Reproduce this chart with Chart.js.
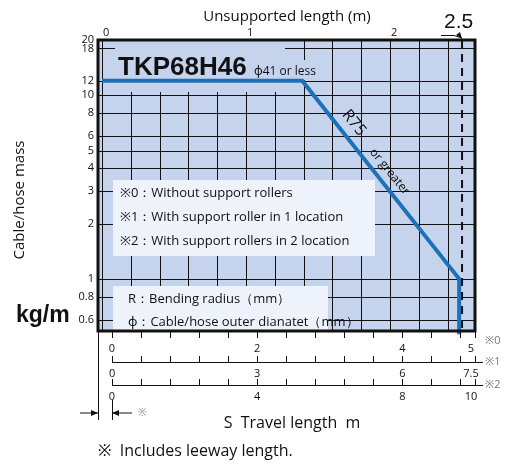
<!DOCTYPE html>
<html><head><meta charset="utf-8">
<script src="https://cdn.jsdelivr.net/npm/chart.js@4"></script>
<style>html,body{margin:0;background:#fff}#wrap{width:520px;height:471px}</style>
</head><body><div id="wrap"><canvas id="c"></canvas></div>
<script>
// unsupported length (m) vs cable/hose mass (kg/m)
const unsupportedLen = [0, 1.39, 2.48, 2.48];
const cableMass = [12, 12, 1, 0.5];
const massTicks = [0.6, 0.8, 1, 2, 3, 4, 5, 6, 8, 10, 12, 18, 20];
const topTicks = [0, 0.2, 0.4, 0.6, 0.8, 1, 1.2, 1.4, 1.6, 1.8, 2, 2.2, 2.4];
const topLabels = [0, 1, 2];
const travel0Labels = [0, 2, 4, 5];
const travel1Labels = [0, 3, 6, 7.5];
const travel2Labels = [0, 4, 8, 10];

const FONT = "'Open Sans', 'Noto Sans', sans-serif";

const drawPlugin = {
  id: "decor",
  beforeDatasetsDraw(chart) {
    const c = chart.ctx, a = chart.chartArea, s = chart.scales;
    c.save();
    c.fillStyle = "#c5d3ec";
    c.fillRect(a.left, a.top, a.right - a.left, a.bottom - a.top);
    c.strokeStyle = "#111"; c.lineWidth = 1;
    topTicks.forEach(v => {
      const x = Math.round(s.x.getPixelForValue(v)) + 0.5;
      c.beginPath(); c.moveTo(x, a.top); c.lineTo(x, a.bottom); c.stroke();
    });
    massTicks.forEach(v => {
      const y = Math.round(s.y.getPixelForValue(v)) + 0.5;
      c.beginPath(); c.moveTo(a.left, y); c.lineTo(a.right, y); c.stroke();
    });
    // legend boxes
    c.fillStyle = "#eef2fa";
    c.fillRect(113, 180, 262, 76);
    c.fillRect(113, 286, 215, 44);
    c.fillStyle = "#c5d3ec";
    c.fillRect(115, 40, 170, 52);
    c.fillRect(250, 60, 60, 20);
    c.restore();
  },
  afterDraw(chart) {
    const c = chart.ctx, a = chart.chartArea, s = chart.scales;
    c.save();
    // dashed limit line
    const xd = s.x.getPixelForValue(2.5);
    c.strokeStyle = "#111"; c.lineWidth = 2; c.setLineDash([8, 6]);
    c.beginPath(); c.moveTo(xd, a.top); c.lineTo(xd, a.bottom); c.stroke();
    c.setLineDash([]);
    // frame
    c.lineWidth = 3;
    c.strokeRect(a.left, a.top, a.right - a.left, a.bottom - a.top);
    c.fillStyle = "#111";
    // y labels
    c.font = "11px " + FONT; c.textAlign = "right"; c.textBaseline = "middle";
    massTicks.forEach(v => c.fillText(String(v), a.left - 4, s.y.getPixelForValue(v)));
    // top labels
    c.textAlign = "center"; c.textBaseline = "bottom";
    topLabels.forEach(v => c.fillText(String(v), s.x.getPixelForValue(v) + 4, a.top - 2));
    // bottom travel axes
    c.lineWidth = 1;
    const axes = [
      {sc: s.t0, max: 5, step: 0.4, y: a.bottom + 1, dir: 1, lab: travel0Labels, name: "※0"},
      {sc: s.t1, max: 7.5, step: 0.6, y: 362, dir: -1, lab: travel1Labels, name: "※1"},
      {sc: s.t2, max: 10, step: 0.8, y: 385, dir: -1, lab: travel2Labels, name: "※2"}
    ];
    axes.forEach(ax => {
      const x0 = ax.sc.getPixelForValue(0), x1 = ax.sc.getPixelForValue(ax.max);
      if (ax.dir < 0) { c.beginPath(); c.moveTo(x0, ax.y + 0.5); c.lineTo(x1 + 8, ax.y + 0.5); c.stroke(); }
      for (let v = 0; v <= ax.max + 1e-6; v += ax.step) {
        const x = Math.round(ax.sc.getPixelForValue(v)) + 0.5;
        c.beginPath(); c.moveTo(x, ax.y); c.lineTo(x, ax.y + 6 * ax.dir); c.stroke();
      }
      const x = Math.round(x1) + 0.5;
      c.beginPath(); c.moveTo(x, ax.y); c.lineTo(x, ax.y + 6 * ax.dir); c.stroke();
      c.font = "11px " + FONT; c.textAlign = "center"; c.textBaseline = "middle";
      ax.lab.forEach(v => c.fillText(String(v), ax.sc.getPixelForValue(v) - (v === ax.max ? 4 : 0), ax.y + (ax.dir > 0 ? 17 : 12)));
      c.fillStyle = "#777"; c.textAlign = "left";
      c.fillText(ax.name, a.right + 10, ax.y + (ax.dir > 0 ? 9 : 0));
      c.fillStyle = "#111";
    });
    // left extension and leeway arrows
    c.beginPath(); c.moveTo(a.left + 0.5, a.bottom); c.lineTo(a.left + 0.5, 420); c.stroke();
    const xs = s.t0.getPixelForValue(0);
    c.beginPath(); c.moveTo(xs + 0.5, 400); c.lineTo(xs + 0.5, 420); c.stroke();
    c.beginPath(); c.moveTo(80, 413); c.lineTo(a.left, 413); c.moveTo(xs, 413); c.lineTo(xs + 20, 413); c.stroke();
    c.beginPath(); c.moveTo(a.left, 413); c.lineTo(a.left - 7, 410); c.lineTo(a.left - 7, 416); c.fill();
    c.beginPath(); c.moveTo(xs, 413); c.lineTo(xs + 7, 410); c.lineTo(xs + 7, 416); c.fill();
    c.fillStyle = "#888"; c.font = "10px " + FONT; c.textAlign = "left";
    c.fillText("※", 138, 413);
    c.fillStyle = "#111";
    // titles
    c.font = "15px " + FONT; c.textAlign = "center"; c.textBaseline = "middle";
    c.fillText("Unsupported length (m)", 287, 17);
    c.font = "16px " + FONT;
    c.fillText("S  Travel length  m", 292, 423);
    c.textAlign = "left";
    c.fillText("※  Includes leeway length.", 98, 451);
    c.font = "21px 'Liberation Sans', sans-serif";
    c.fillText("2.5", 444, 22);
    c.lineWidth = 1;
    c.beginPath(); c.moveTo(441, 35.5); c.lineTo(454, 35.5); c.lineTo(xd, a.top - 2); c.stroke();
    c.beginPath(); c.moveTo(xd, a.top - 1); c.lineTo(xd - 6, a.top - 5); c.lineTo(xd - 2, a.top - 8); c.fill();
    c.font = "bold 26px 'Liberation Sans', sans-serif";
    c.fillText("TKP68H46", 118, 68);
    c.font = "12px " + FONT;
    c.fillText("ϕ41 or less", 254, 72);
    c.font = "13px " + FONT;
    c.fillText("※0：Without support rollers", 120, 193);
    c.fillText("※1：With support roller in 1 location", 120, 217);
    c.fillText("※2：With support rollers in 2 location", 120, 241);
    c.fillText("R：Bending radius（mm）", 128, 299);
    c.fillText("ϕ：Cable/hose outer dianatet（mm）", 128, 322);
    c.font = "16px " + FONT;
    c.save(); c.translate(345, 112); c.rotate(51 * Math.PI / 180); c.fillText("R75", 0, 0); c.restore();
    c.font = "12px " + FONT;
    c.save(); c.translate(372, 150); c.rotate(51 * Math.PI / 180); c.fillText("or greater", 0, 0); c.restore();
    c.font = "bold 23px 'Liberation Sans', sans-serif";
    c.fillText("kg/m", 16, 316);
    c.font = "15px " + FONT; c.textAlign = "center";
    c.save(); c.translate(20, 200); c.rotate(-Math.PI / 2); c.fillText("Cable/hose mass", 0, 0); c.restore();
    c.restore();
  }
};

new Chart(document.getElementById("c"), {
  type: "scatter",
  data: {
    datasets: [{
      data: unsupportedLen.map((x, i) => ({x: x, y: cableMass[i]})),
      showLine: true,
      borderColor: "#1b72b8",
      borderWidth: 4,
      pointRadius: 0,
      clip: false
    }]
  },
  options: {
    responsive: true,
    maintainAspectRatio: false,
    animation: false,
    layout: {padding: {left: 98, right: 45, top: 40, bottom: 140}},
    plugins: {legend: {display: false}, tooltip: {enabled: false}},
    scales: {
      x: {type: "linear", display: false, min: -0.028, max: 2.59},
      y: {type: "logarithmic", display: false, min: 0.52, max: 20},
      t0: {type: "linear", axis: "x", display: false, min: -0.193, max: 5},
      t1: {type: "linear", axis: "x", display: false, min: -0.29, max: 7.5},
      t2: {type: "linear", axis: "x", display: false, min: -0.386, max: 10}
    }
  },
  plugins: [drawPlugin]
});
</script>
</body></html>
